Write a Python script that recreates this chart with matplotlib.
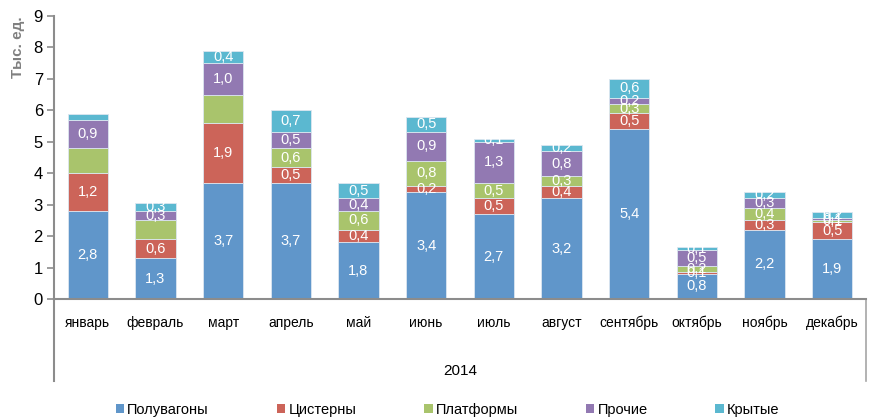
import numpy as np
import matplotlib
matplotlib.use('Agg')
import matplotlib.pyplot as plt
from matplotlib.patches import Patch
from matplotlib.transforms import blended_transform_factory

plt.rcParams['font.family'] = ['Liberation Sans', 'DejaVu Sans']

# Данные (тыс. ед.)
meses = ['январь', 'февраль', 'март', 'апрель', 'май', 'июнь',
         'июль', 'август', 'сентябрь', 'октябрь', 'ноябрь', 'декабрь']
poluvagony = [2.8, 1.3, 3.7, 3.7, 1.8, 3.4, 2.7, 3.2, 5.4, 0.8, 2.2, 1.9]
cisterny = [1.2, 0.6, 1.9, 0.5, 0.4, 0.2, 0.5, 0.4, 0.5, 0.05, 0.3, 0.54]
platformy = [0.8, 0.6, 0.9, 0.6, 0.6, 0.8, 0.5, 0.3, 0.3, 0.2, 0.4, 0.07]
prochie = [0.9, 0.3, 1.0, 0.5, 0.4, 0.9, 1.3, 0.8, 0.2, 0.5, 0.3, 0.07]
krytye = [0.17, 0.26, 0.4, 0.7, 0.5, 0.5, 0.1, 0.2, 0.6, 0.1, 0.2, 0.2]
anio = '2014'

series = ['Полувагоны', 'Цистерны', 'Платформы', 'Прочие', 'Крытые']
valores = [poluvagony, cisterny, platformy, prochie, krytye]
colores = ['#6096CA', '#CC6459', '#A9C46C', '#9279B2', '#5BB8D0']
# подписи, которых нет на исходной диаграмме
sin_etiqueta = {(0, 2), (0, 4), (1, 2), (2, 2)}

fig = plt.figure(figsize=(8.69, 4.2), dpi=100)
ax = fig.add_axes([54 / 869, 121 / 420, 812 / 869, 283 / 420])

x = np.arange(len(meses))
base = np.zeros(len(meses))
for s, (nombre, vals, col) in enumerate(zip(series, valores, colores)):
    vals = np.array(vals)
    ax.bar(x, vals, 0.6, bottom=base, color=col, edgecolor='#DCE6F0',
           linewidth=0.6, label=nombre, zorder=2)
    for i, v in enumerate(vals):
        if (i, s) in sin_etiqueta:
            continue
        ax.text(x[i], base[i] + v / 2, f'{v:.1f}'.replace('.', ','),
                ha='center', va='center', color='white', fontsize=10.5, zorder=3)
    base += vals

ax.set_xlim(-0.5, 11.5)
ax.set_ylim(0, 9)
ax.set_yticks(range(10))
ax.tick_params(axis='y', direction='out', length=5, width=1.2, color='#8C8C8C',
               labelsize=12, pad=3)
ax.set_xticks(x)
ax.set_xticklabels(meses, fontsize=10)
ax.tick_params(axis='x', length=0, pad=12)

for lado in ['top', 'right']:
    ax.spines[lado].set_visible(False)
for lado in ['left', 'bottom']:
    ax.spines[lado].set_color('#8C8C8C')
    ax.spines[lado].set_linewidth(1.5)

# эскиз многоуровневой оси категорий
tr = blended_transform_factory(ax.transAxes, ax.transAxes)
ax.plot([0, 0], [0, -0.29], color='#8C8C8C', lw=1.5, transform=tr, clip_on=False)
ax.plot([1, 1], [0, -0.29], color='#A6A6A6', lw=1.2, transform=tr, clip_on=False)
ax.text(0.5, -0.253, anio, transform=tr, ha='center', va='center', fontsize=11)

fig.text(0.021, 0.962, 'Тыс. ед.', rotation=90, ha='center', va='top',
         color='#808080', fontsize=11, fontweight='bold')

handles = [Patch(facecolor=c, edgecolor='none') for c in colores]
fig.legend(handles, series, loc='center', bbox_to_anchor=(0.515, 0.024), ncol=5,
           frameon=False, fontsize=10.5, handlelength=0.6, handleheight=0.6,
           handletextpad=0.2, columnspacing=4.65)

fig.savefig('out.png', dpi=100)
